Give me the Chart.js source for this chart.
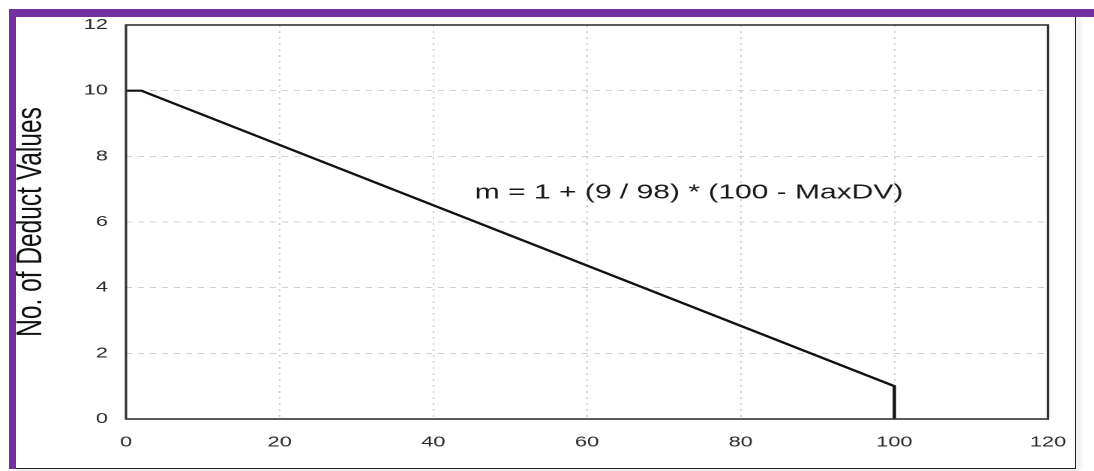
<!DOCTYPE html>
<html>
<head>
<meta charset="utf-8">
<script src="https://cdn.jsdelivr.net/npm/chart.js@4/dist/chart.umd.min.js"></script>
<style>
  html, body { margin: 0; padding: 0; background: #fff; overflow: hidden; width: 1094px; height: 471px; }
  #wrap { position: absolute; left: 0; top: 0; width: 730px; height: 471px; transform: scaleX(1.5); transform-origin: 0 0; }
  .bar { position: absolute; }
</style>
</head>
<body>
<div id="wrap"><canvas id="c" width="730" height="471"></canvas></div>
<div class="bar" style="left:9px;top:9px;width:1085px;height:8px;background:#7331a0;"></div>
<div class="bar" style="left:9px;top:9px;width:7px;height:460px;background:#7331a0;"></div>
<div class="bar" style="left:1075px;top:17px;width:1px;height:452px;background:#222;box-shadow:3px 0 5px rgba(0,0,0,0.35);"></div>
<div class="bar" style="left:16px;top:468px;width:1060px;height:1px;background:#222;box-shadow:0 2px 3px rgba(0,0,0,0.25);"></div>
<script>
// ---- data ----
const maxDV = [0, 2, 100, 100];
const numDeductValues = [10, 10, 1, 0];
const xTickValues = [0, 20, 40, 60, 80, 100, 120];
const yTickValues = [0, 2, 4, 6, 8, 10, 12];
const yAxisTitle = 'No. of Deduct Values';
const annotationText = 'm = 1 + (9 / 98) * (100 - MaxDV)';
const annotationAt = { x: 45.4, y: 6.88 };

const points = maxDV.map((x, i) => ({ x: x, y: numDeductValues[i] }));

const frameAndText = {
  id: 'frameAndText',
  afterDatasetsDraw(chart) {
    const { ctx, chartArea: a, scales } = chart;
    ctx.save();
    ctx.strokeStyle = '#333';
    ctx.lineWidth = 1.6;
    ctx.strokeRect(a.left, a.top, a.right - a.left, a.bottom - a.top);
    ctx.fillStyle = '#1a1a1a';
    ctx.font = '20px "Liberation Sans", Arial, sans-serif';
    ctx.textAlign = 'left';
    ctx.textBaseline = 'middle';
    ctx.fillText(annotationText, scales.x.getPixelForValue(annotationAt.x), scales.y.getPixelForValue(annotationAt.y));
    ctx.restore();
  }
};

new Chart(document.getElementById('c'), {
  type: 'scatter',
  data: {
    datasets: [{
      data: points,
      showLine: true,
      borderColor: '#111',
      borderWidth: 2.2,
      pointRadius: 0,
      tension: 0
    }]
  },
  options: {
    responsive: false,
    animation: false,
    devicePixelRatio: 2,
    layout: { padding: { left: 0, top: 25, right: 31.3, bottom: 0 } },
    plugins: { legend: { display: false }, tooltip: { enabled: false } },
    scales: {
      x: {
        type: 'linear', min: 0, max: 120,
        afterBuildTicks: s => { s.ticks = xTickValues.map(v => ({ value: v })); },
        afterFit: s => { s.height = 52; },
        grid: { color: '#d0d0d0', lineWidth: 1, drawTicks: false },
        border: { display: false, dash: [2, 4] },
        ticks: { padding: 15, color: '#2a2a2a', font: { family: '"Liberation Sans", Arial, sans-serif', size: 14.5 }, maxRotation: 0 }
      },
      y: {
        type: 'linear', min: 0, max: 12,
        afterBuildTicks: s => { s.ticks = yTickValues.map(v => ({ value: v })); },
        afterFit: s => { s.width = 84; },
        grid: { color: '#d0d0d0', lineWidth: 1, drawTicks: false },
        border: { display: false, dash: [4, 4] },
        ticks: { padding: 12, color: '#2a2a2a', font: { family: '"Liberation Sans", Arial, sans-serif', size: 14.5 } },
        title: {
          display: true, text: yAxisTitle, color: '#111',
          font: { family: '"Liberation Sans", Arial, sans-serif', size: 24.5 },
          padding: { top: 6, bottom: 0 }
        }
      }
    }
  },
  plugins: [frameAndText]
});
</script>
</body>
</html>
